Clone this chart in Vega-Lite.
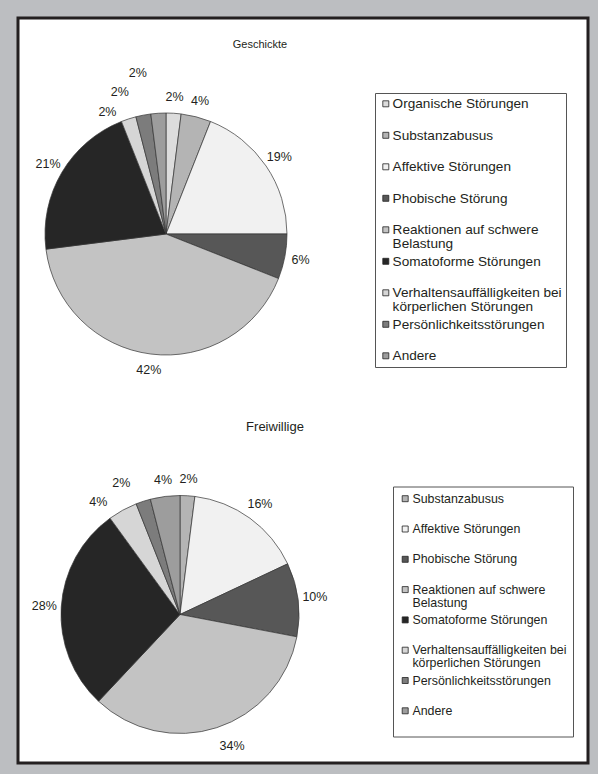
{
  "$schema": "https://vega.github.io/schema/vega-lite/v6.json",
  "width": 570,
  "height": 745,
  "autosize": {"type": "none"},
  "padding": {"left": 18, "top": 18, "right": 10, "bottom": 11},
  "background": "#bcbec1",
  "config": {
    "view": {"stroke": null},
    "font": "Liberation Sans",
    "text": {"font": "Liberation Sans", "color": "#231f20"}
  },
  "datasets": {
    "geschickte": [
      {"k": 1, "category": "Organische Störungen", "value": 0.02},
      {"k": 2, "category": "Substanzabusus", "value": 0.04},
      {"k": 3, "category": "Affektive Störungen", "value": 0.19},
      {"k": 4, "category": "Phobische Störung", "value": 0.06},
      {"k": 5, "category": "Reaktionen auf schwere Belastung", "value": 0.42},
      {"k": 6, "category": "Somatoforme Störungen", "value": 0.21},
      {"k": 7, "category": "Verhaltensauffälligkeiten bei körperlichen Störungen", "value": 0.02},
      {"k": 8, "category": "Persönlichkeitsstörungen", "value": 0.02},
      {"k": 9, "category": "Andere", "value": 0.02}
    ],
    "freiwillige": [
      {"k": 1, "category": "Substanzabusus", "value": 0.02},
      {"k": 2, "category": "Affektive Störungen", "value": 0.16},
      {"k": 3, "category": "Phobische Störung", "value": 0.10},
      {"k": 4, "category": "Reaktionen auf schwere Belastung", "value": 0.34},
      {"k": 5, "category": "Somatoforme Störungen", "value": 0.28},
      {"k": 6, "category": "Verhaltensauffälligkeiten bei körperlichen Störungen", "value": 0.04},
      {"k": 7, "category": "Persönlichkeitsstörungen", "value": 0.02},
      {"k": 8, "category": "Andere", "value": 0.04}
    ]
  },
  "layer": [
    {
      "data": {"values": [{"panel": "Rahmen"}]},
      "mark": {"type": "rect", "fill": "white", "stroke": "#231f20", "strokeWidth": 3},
      "encoding": {}
    },
    {
      "data": {"values": [{"titel": "Geschickte"}]},
      "mark": {"type": "text", "x": 242, "y": 27, "fontSize": 11, "align": "center", "baseline": "middle"},
      "encoding": {"text": {"field": "titel", "type": "nominal"}}
    },
    {
      "data": {"values": [{"titel": "Freiwillige"}]},
      "mark": {"type": "text", "x": 257, "y": 409, "fontSize": 13, "align": "center", "baseline": "middle"},
      "encoding": {"text": {"field": "titel", "type": "nominal"}}
    },
    {
      "data": {"name": "geschickte"},
      "mark": {"type": "arc", "x": 148, "y": 216, "outerRadius": 121, "stroke": "#333333", "strokeWidth": 0.7},
      "encoding": {
        "theta": {"field": "value", "type": "quantitative", "stack": true},
        "order": {"field": "k", "type": "quantitative"},
        "color": {
          "field": "category",
          "type": "nominal",
          "scale": {
            "domain": ["Organische Störungen", "Substanzabusus", "Affektive Störungen", "Phobische Störung", "Reaktionen auf schwere Belastung", "Somatoforme Störungen", "Verhaltensauffälligkeiten bei körperlichen Störungen", "Persönlichkeitsstörungen", "Andere"],
            "range": ["#dcdcdc", "#b4b4b4", "#f1f1f1", "#575757", "#c3c3c3", "#262626", "#d6d6d6", "#7c7c7c", "#9d9d9d"]
          },
          "legend": {
            "orient": "none",
            "legendX": 357,
            "legendY": 75,
            "title": null,
            "fillColor": "white",
            "strokeColor": "#555555",
            "padding": 4,
            "symbolType": "square",
            "symbolSize": 36,
            "symbolStrokeColor": "#222222",
            "symbolStrokeWidth": 0.8,
            "labelFont": "Liberation Sans",
            "labelFontSize": 13.6,
            "labelColor": "#231f20",
            "labelLimit": 300,
            "labelOffset": 0,
            "rowPadding": 3.5,
            "labelBaseline": "alphabetic",
            "labelExpr": "datum.label == 'Reaktionen auf schwere Belastung' ? ['Reaktionen auf schwere', 'Belastung'] : datum.label == 'Verhaltensauffälligkeiten bei körperlichen Störungen' ? ['Verhaltensauffälligkeiten bei', 'körperlichen Störungen'] : datum.label == 'Andere' ? datum.label : [datum.label, '']",
            "encode": {"labels": {"update": {"dy": {"value": 4.5}, "lineHeight": {"value": 13.5}}}}
          }
        }
      }
    },
    {
      "data": {"name": "geschickte"},
      "mark": {"type": "text", "x": 148, "y": 216, "radius": 137, "fontSize": 12.5, "align": "center", "baseline": "middle"},
      "encoding": {
        "theta": {"field": "value", "type": "quantitative", "stack": true},
        "order": {"field": "k", "type": "quantitative"},
        "detail": {"field": "category", "type": "nominal"},
        "text": {"condition": {"test": "indexof(['Verhaltensauffälligkeiten bei körperlichen Störungen', 'Persönlichkeitsstörungen', 'Andere'], datum.category) < 0", "field": "value", "type": "quantitative", "format": ".0%"}, "value": ""}
      }
    },
    {
      "data": {"name": "geschickte"},
      "mark": {"type": "text", "x": 148, "y": 216, "radius": 128, "dx": -19, "fontSize": 12.5, "align": "center", "baseline": "middle"},
      "encoding": {
        "theta": {"field": "value", "type": "quantitative", "stack": true},
        "order": {"field": "k", "type": "quantitative"},
        "detail": {"field": "category", "type": "nominal"},
        "text": {"condition": {"test": "datum.category == 'Verhaltensauffälligkeiten bei körperlichen Störungen'", "field": "value", "type": "quantitative", "format": ".0%"}, "value": ""}
      }
    },
    {
      "data": {"name": "geschickte"},
      "mark": {"type": "text", "x": 148, "y": 216, "radius": 145, "dx": -19, "fontSize": 12.5, "align": "center", "baseline": "middle"},
      "encoding": {
        "theta": {"field": "value", "type": "quantitative", "stack": true},
        "order": {"field": "k", "type": "quantitative"},
        "detail": {"field": "category", "type": "nominal"},
        "text": {"condition": {"test": "datum.category == 'Persönlichkeitsstörungen'", "field": "value", "type": "quantitative", "format": ".0%"}, "value": ""}
      }
    },
    {
      "data": {"name": "geschickte"},
      "mark": {"type": "text", "x": 148, "y": 216, "radius": 161, "dx": -18, "fontSize": 12.5, "align": "center", "baseline": "middle"},
      "encoding": {
        "theta": {"field": "value", "type": "quantitative", "stack": true},
        "order": {"field": "k", "type": "quantitative"},
        "detail": {"field": "category", "type": "nominal"},
        "text": {"condition": {"test": "datum.category == 'Andere'", "field": "value", "type": "quantitative", "format": ".0%"}, "value": ""}
      }
    },
    {
      "data": {"name": "freiwillige"},
      "mark": {"type": "arc", "x": 162, "y": 596.5, "outerRadius": 119, "stroke": "#333333", "strokeWidth": 0.7},
      "encoding": {
        "theta": {"field": "value", "type": "quantitative", "stack": true},
        "order": {"field": "k", "type": "quantitative"},
        "color": {
          "field": "category",
          "type": "nominal",
          "scale": {
            "domain": ["Substanzabusus", "Affektive Störungen", "Phobische Störung", "Reaktionen auf schwere Belastung", "Somatoforme Störungen", "Verhaltensauffälligkeiten bei körperlichen Störungen", "Persönlichkeitsstörungen", "Andere"],
            "range": ["#b4b4b4", "#f1f1f1", "#575757", "#c3c3c3", "#262626", "#d6d6d6", "#7c7c7c", "#9d9d9d"]
          },
          "legend": {
            "orient": "none",
            "legendX": 375,
            "legendY": 468.5,
            "title": null,
            "fillColor": "white",
            "strokeColor": "#555555",
            "padding": 6,
            "symbolType": "square",
            "symbolSize": 36,
            "symbolStrokeColor": "#222222",
            "symbolStrokeWidth": 0.8,
            "labelFont": "Liberation Sans",
            "labelFontSize": 12.4,
            "labelColor": "#231f20",
            "labelLimit": 300,
            "labelOffset": 1,
            "rowPadding": 4.3,
            "labelBaseline": "alphabetic",
            "labelExpr": "datum.label == 'Reaktionen auf schwere Belastung' ? ['Reaktionen auf schwere', 'Belastung'] : datum.label == 'Verhaltensauffälligkeiten bei körperlichen Störungen' ? ['Verhaltensauffälligkeiten bei', 'körperlichen Störungen'] : [datum.label, '']",
            "encode": {"labels": {"update": {"dy": {"value": 4}, "lineHeight": {"value": 13}}}}
          }
        }
      }
    },
    {
      "data": {"name": "freiwillige"},
      "mark": {"type": "text", "x": 162, "y": 596.5, "radius": 136, "fontSize": 12.5, "align": "center", "baseline": "middle"},
      "encoding": {
        "theta": {"field": "value", "type": "quantitative", "stack": true},
        "order": {"field": "k", "type": "quantitative"},
        "detail": {"field": "category", "type": "nominal"},
        "text": {"condition": {"test": "indexof(['Verhaltensauffälligkeiten bei körperlichen Störungen', 'Persönlichkeitsstörungen', 'Reaktionen auf schwere Belastung'], datum.category) < 0", "field": "value", "type": "quantitative", "format": ".0%"}, "value": ""}
      }
    },
    {
      "data": {"name": "freiwillige"},
      "mark": {"type": "text", "x": 162, "y": 596.5, "radius": 136, "dx": 10, "dy": 2, "fontSize": 12.5, "align": "center", "baseline": "middle"},
      "encoding": {
        "theta": {"field": "value", "type": "quantitative", "stack": true},
        "order": {"field": "k", "type": "quantitative"},
        "detail": {"field": "category", "type": "nominal"},
        "text": {"condition": {"test": "datum.category == 'Reaktionen auf schwere Belastung'", "field": "value", "type": "quantitative", "format": ".0%"}, "value": ""}
      }
    },
    {
      "data": {"name": "freiwillige"},
      "mark": {"type": "text", "x": 162, "y": 596.5, "radius": 128, "dx": -20, "fontSize": 12.5, "align": "center", "baseline": "middle"},
      "encoding": {
        "theta": {"field": "value", "type": "quantitative", "stack": true},
        "order": {"field": "k", "type": "quantitative"},
        "detail": {"field": "category", "type": "nominal"},
        "text": {"condition": {"test": "datum.category == 'Verhaltensauffälligkeiten bei körperlichen Störungen'", "field": "value", "type": "quantitative", "format": ".0%"}, "value": ""}
      }
    },
    {
      "data": {"name": "freiwillige"},
      "mark": {"type": "text", "x": 162, "y": 596.5, "radius": 138, "dx": -16, "fontSize": 12.5, "align": "center", "baseline": "middle"},
      "encoding": {
        "theta": {"field": "value", "type": "quantitative", "stack": true},
        "order": {"field": "k", "type": "quantitative"},
        "detail": {"field": "category", "type": "nominal"},
        "text": {"condition": {"test": "datum.category == 'Persönlichkeitsstörungen'", "field": "value", "type": "quantitative", "format": ".0%"}, "value": ""}
      }
    }
  ],
  "resolve": {"scale": {"color": "independent", "theta": "independent"}, "legend": {"color": "independent"}}
}
